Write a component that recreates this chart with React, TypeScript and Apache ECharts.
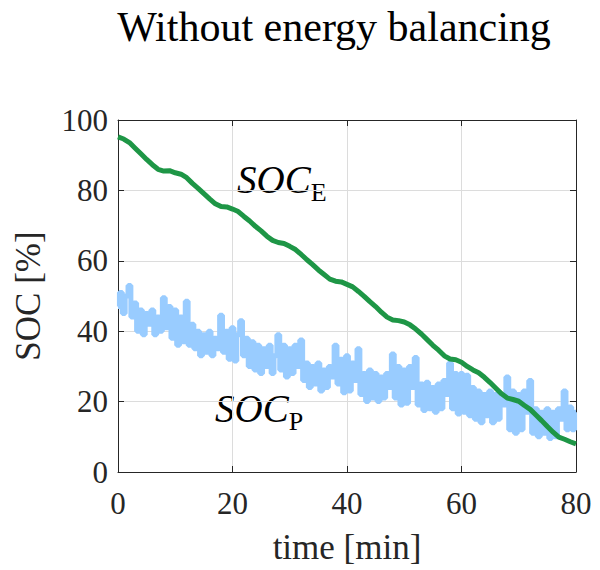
import React, { useEffect, useRef } from "react";
import * as echarts from "echarts";

const titleText = "Without energy balancing";
const xName = "time [min]";
const yName = "SOC [%]";
const xTicks = [0, 20, 40, 60, 80];
const yTicks = [0, 20, 40, 60, 80, 100];

// SOC_E sampled every 1 min, t = 0..80
const socE = [
  95.2, 94.6, 93.6, 92.0, 90.4, 88.8, 87.3, 86.0, 85.5, 85.6,
  85.0, 84.6, 83.6, 82.0, 80.6, 79.1, 77.6, 76.2, 75.4, 75.3,
  74.7, 74.0, 72.6, 71.3, 69.8, 68.5, 67.0, 65.8, 65.2, 64.9,
  64.1, 63.2, 61.8, 60.3, 58.9, 57.4, 56.1, 54.8, 54.2, 54.0,
  53.3, 52.6, 51.3, 49.9, 48.4, 47.0, 45.4, 44.0, 43.2, 43.0,
  42.6, 41.8, 40.6, 39.2, 37.6, 36.0, 34.6, 33.0, 32.1, 31.9,
  31.2, 30.0, 29.0, 28.2, 26.9, 25.4, 23.8, 22.2, 21.0, 20.6,
  20.1, 18.9, 17.8, 16.2, 14.6, 12.9, 11.3, 9.9, 9.3, 8.6,
  8.0,
];

// SOC_P sampled every 0.5 min, t = 0..80
const socP = [
  47, 51, 45, 50, 53, 44, 48, 40, 46, 39,
  45, 42, 46, 39, 44, 40, 49.5, 41, 47, 38,
  46, 36, 44, 37, 48.5, 36, 42, 35, 40, 33,
  39, 34, 40, 33, 38, 35, 44.5, 34, 40, 32,
  41, 31.5, 39, 43, 33, 38, 30, 37, 29, 36,
  28, 35, 30, 36, 28, 33, 39, 29, 36, 27,
  35, 28, 36, 30, 37.5, 26, 31, 24, 30, 25,
  31, 23, 29, 24, 30, 27, 36, 25, 32, 22.5,
  33, 23, 31, 26, 35, 22, 28, 20, 29, 21,
  28, 20, 27, 21, 28, 24, 33.5, 21, 30, 19,
  29, 19.5, 30, 24, 32.5, 19, 25, 17.5, 25.5, 18,
  24, 17, 25, 18, 26, 22, 31, 18, 28, 16.5,
  28, 17, 27.5, 16, 24, 15, 23, 14, 22, 16,
  23, 14, 22, 15, 21, 19, 27, 12, 23, 11,
  22, 12, 23, 17, 26, 11, 18, 10, 17, 11,
  18, 9.5, 17, 10, 18, 15, 23, 12, 18.5, 12,
  17,
];

const serif = "'Liberation Serif', 'Times New Roman', serif";
const axisColor = "#262626";

export default function App() {
  const ref = useRef<HTMLDivElement>(null);
  useEffect(() => {
    if (!ref.current) return;
    const chart = echarts.init(ref.current, undefined, { renderer: "svg" });
    const eData = socE.map((v, i) => [i, v]);
    const pData = socP.map((v, i) => [i * 0.5, v]);
    const xMin = xTicks[0];
    const xMax = xTicks[xTicks.length - 1];
    const yMin = yTicks[0];
    const yMax = yTicks[yTicks.length - 1];
    const tickCommon = {
      show: true,
      inside: true,
      length: 6,
      lineStyle: { color: axisColor, width: 1 },
    };
    const richStyle = {
      i: { fontFamily: serif, fontStyle: "italic", fontSize: 39, lineHeight: 40, fill: "#000" },
      s: { fontFamily: serif, fontSize: 26, lineHeight: 26, verticalAlign: "bottom", fill: "#000", padding: [0, 0, -6, 0] },
    };
    chart.setOption({
      animation: false,
      backgroundColor: "#ffffff",
      grid: { left: 118, right: 24, top: 120, bottom: 94 },
      graphic: [
        {
          type: "text",
          x: 334,
          y: 6,
          style: {
            text: titleText,
            font: `42px ${serif}`,
            fill: "#000000",
            align: "center",
            textAlign: "center",
          },
        },
        {
          type: "text",
          x: 237,
          y: 159,
          style: { text: "{i|SOC}{s|E}", rich: richStyle },
        },
        {
          type: "text",
          x: 215,
          y: 388,
          style: { text: "{i|SOC}{s|P}", rich: richStyle },
        },
      ],
      xAxis: [
        {
          type: "value",
          min: xMin,
          max: xMax,
          interval: 20,
          name: xName,
          nameLocation: "middle",
          nameGap: 58,
          nameTextStyle: { fontFamily: serif, fontSize: 35, color: axisColor },
          axisLine: { show: true, onZero: false, lineStyle: { color: axisColor, width: 1 } },
          axisTick: tickCommon,
          axisLabel: { fontFamily: serif, fontSize: 31, color: axisColor, margin: 16 },
          splitLine: { show: true, lineStyle: { color: "#dcdcdc", width: 1 } },
        },
        {
          type: "value",
          position: "top",
          min: xMin,
          max: xMax,
          interval: 20,
          axisLine: { show: true, onZero: false, lineStyle: { color: axisColor, width: 1 } },
          axisTick: tickCommon,
          axisLabel: { show: false },
          splitLine: { show: false },
        },
      ],
      yAxis: [
        {
          type: "value",
          min: yMin,
          max: yMax,
          interval: 20,
          name: yName,
          nameLocation: "middle",
          nameGap: 72,
          nameRotate: 90,
          nameTextStyle: { fontFamily: serif, fontSize: 35, color: axisColor },
          axisLine: { show: true, onZero: false, lineStyle: { color: axisColor, width: 1 } },
          axisTick: tickCommon,
          axisLabel: { fontFamily: serif, fontSize: 31, color: axisColor, margin: 10 },
          splitLine: { show: true, lineStyle: { color: "#dcdcdc", width: 1 } },
        },
        {
          type: "value",
          position: "right",
          min: yMin,
          max: yMax,
          interval: 20,
          axisLine: { show: true, onZero: false, lineStyle: { color: axisColor, width: 1 } },
          axisTick: tickCommon,
          axisLabel: { show: false },
          splitLine: { show: false },
        },
      ],
      series: [
        {
          name: "SOC_P",
          type: "line",
          data: pData,
          step: "middle",
          showSymbol: false,
          lineStyle: { color: "#99ccff", width: 5 },
          xAxisIndex: 0,
          yAxisIndex: 0,
          z: 2,
        },
        {
          name: "SOC_E",
          type: "line",
          data: eData,
          showSymbol: false,
          lineStyle: { color: "#1e9646", width: 5 },
          xAxisIndex: 0,
          yAxisIndex: 0,
          z: 3,
        },
      ],
    });
    return () => chart.dispose();
  }, []);
  return (
    <div
      ref={ref}
      style={{ position: "fixed", left: 0, top: 0, width: 600, height: 570 }}
    />
  );
}
